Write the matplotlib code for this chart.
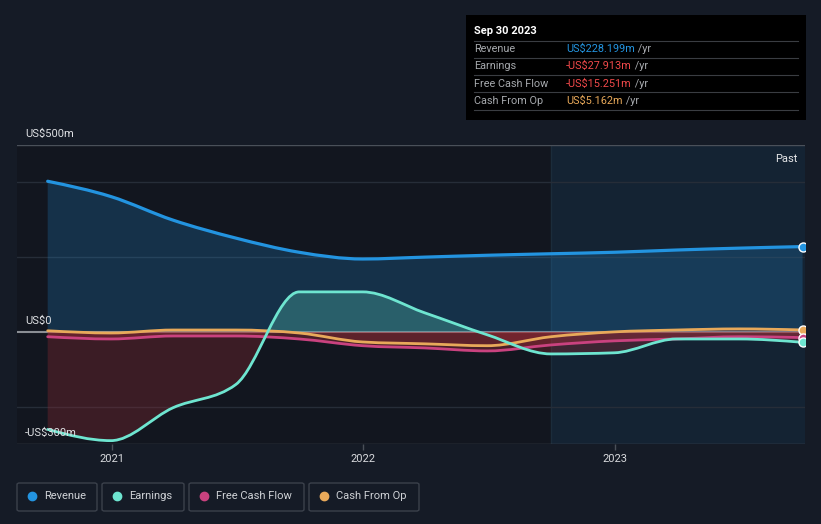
import numpy as np
import matplotlib
matplotlib.use("Agg")
import matplotlib.pyplot as plt
from matplotlib.path import Path
from matplotlib.patches import PathPatch, Rectangle, FancyBboxPatch
from matplotlib.text import Annotation
import datetime as dt

plt.rcParams['font.family'] = ['Roboto', 'DejaVu Sans']

# ---------------- data ----------------
dates = ["2020-09-30", "2020-12-31", "2021-03-31", "2021-06-30", "2021-09-30",
         "2021-12-31", "2022-03-31", "2022-06-30", "2022-09-30", "2022-12-31",
         "2023-03-31", "2023-06-30", "2023-09-30"]
revenue = [403, 362, 299, 251, 213, 195, 200, 205, 209, 213, 219, 224, 228.199]
earnings = [-261, -291, -203, -141, 107, 107, 51, -8, -59, -56, -19, -19, -27.913]
fcf = [-13, -19, -11, -11, -19, -37, -43, -51, -35, -24, -19, -13, -15.251]
cfo = [3, -3, 5, 5, -3, -27, -32, -37, -13, 0, 5, 8, 5.162]

y_ticks = [500, 0, -300]
y_tick_labels = ["US$500m", "US$0", "-US$300m"]
x_ticks = [2021, 2022, 2023]
x_tick_labels = ["2021", "2022", "2023"]

tooltip_title = "Sep 30 2023"
tooltip_labels = ["Revenue", "Earnings", "Free Cash Flow", "Cash From Op"]
tooltip_values = ["US$228.199m", "-US$27.913m", "-US$15.251m", "US$5.162m"]
series_names = ["Revenue", "Earnings", "Free Cash Flow", "Cash From Op"]

# ---------------- styles ----------------
BG = "#151b26"
C_REV = "#2394e0"
C_EARN = "#6ee5d0"
C_FCF = "#c9427f"
C_CFO = "#e8a95a"
colors = [C_REV, C_EARN, C_FCF, C_CFO]


def frac_year(s):
    d = dt.date.fromisoformat(s)
    start = dt.date(d.year, 1, 1)
    end = dt.date(d.year + 1, 1, 1)
    return d.year + (d - start).days / (end - start).days


X = np.array([frac_year(s) for s in dates])


def monotone_tangents(x, y):
    x = np.asarray(x, float); y = np.asarray(y, float)
    n = len(x)
    t = np.zeros(n)
    h = np.diff(x)
    s = np.diff(y) / h
    for i in range(1, n - 1):
        h0, h1 = h[i - 1], h[i]
        s0, s1 = s[i - 1], s[i]
        p = (s0 * h1 + s1 * h0) / (h0 + h1)
        t[i] = (np.sign(s0) + np.sign(s1)) * min(abs(s0), abs(s1), 0.5 * abs(p))
    t[0] = (3 * s[0] - t[1]) / 2
    t[-1] = (3 * s[-1] - t[-2]) / 2
    return t


def curve_path_parts(x, y):
    x = np.asarray(x, float); y = np.asarray(y, float)
    t = monotone_tangents(x, y)
    verts = [(x[0], y[0])]
    codes = [Path.MOVETO]
    for i in range(len(x) - 1):
        dx = (x[i + 1] - x[i]) / 3
        verts += [(x[i] + dx, y[i] + dx * t[i]),
                  (x[i + 1] - dx, y[i + 1] - dx * t[i + 1]),
                  (x[i + 1], y[i + 1])]
        codes += [Path.CURVE4] * 3
    return verts, codes


def line_path(x, y):
    v, c = curve_path_parts(x, y)
    return Path(v, c)


def area_path(x, y, base=0.0):
    v, c = curve_path_parts(x, y)
    v = v + [(x[-1], base), (x[0], base), (x[0], y[0])]
    c = c + [Path.LINETO, Path.LINETO, Path.CLOSEPOLY]
    return Path(v, c)


W, H = 821, 524
fig = plt.figure(figsize=(W / 100, H / 100), dpi=100, facecolor=BG)
ax = fig.add_axes([17 / W, 1 - 444 / H, (805 - 17) / W, (444 - 145) / H])
ax.set_facecolor("#12161f")

x_left, x_right = 2020.624, 2023.755
ax.set_xlim(x_left, x_right)
ax.set_ylim(-300, 500)

# highlighted last year
ax.axvspan(X[-5], x_right, color="#15283a", alpha=0.75, lw=0, zorder=0)
ax.axvline(X[-5], color="#1b2c3b", lw=1, zorder=0.5)

# gridlines
for gy in [400, 200, -200]:
    ax.axhline(gy, color="#262d38", lw=1, zorder=0.6)
ax.axhline(0, color="#8a8e94", lw=1.5, zorder=0.7)

for sp in ax.spines.values():
    sp.set_visible(False)
ax.axhline(500, color="#4a5059", lw=1, zorder=0.8)
ax.axhline(-300, color="#4a5059", lw=1, zorder=0.8)

# fills
ax.add_patch(PathPatch(area_path(X, revenue), facecolor=C_REV, alpha=0.22, lw=0, zorder=1))

earn_pos = PathPatch(area_path(X, earnings), facecolor="#4fb6a8", alpha=0.35, lw=0, zorder=1.2)
ax.add_patch(earn_pos)
earn_pos.set_clip_path(Rectangle((x_left, 0), x_right - x_left, 600, transform=ax.transData))
earn_neg = PathPatch(area_path(X, earnings), facecolor="#8a2a33", alpha=0.35, lw=0, zorder=1.2)
ax.add_patch(earn_neg)
earn_neg.set_clip_path(Rectangle((x_left, -400), x_right - x_left, 400, transform=ax.transData))

ax.add_patch(PathPatch(area_path(X, fcf), facecolor="#b0303a", alpha=0.35, lw=0, zorder=1.3))
ax.add_patch(PathPatch(area_path(X, cfo), facecolor="#b0303a", alpha=0.2, lw=0, zorder=1.3))

# lines
for vals, col, lw, z in [(revenue, C_REV, 2.3, 3), (earnings, C_EARN, 2.0, 3.4),
                         (fcf, C_FCF, 2.0, 3.2), (cfo, C_CFO, 2.0, 3.3)]:
    ax.add_patch(PathPatch(line_path(X, vals), facecolor="none", edgecolor=col,
                           lw=lw, zorder=z, capstyle="round", joinstyle="round"))

# end markers (clipped at the plot edge)
for vals, col, z in [(revenue, C_REV, 5), (cfo, C_CFO, 5.1), (fcf, C_FCF, 5.2), (earnings, C_EARN, 5.3)]:
    ax.plot([X[-1]], [vals[-1]], marker="o", ms=6.5, mfc=col, mec="white", mew=1.0,
            zorder=z, clip_on=True)

# ticks
ax.set_yticks([])
ax.set_xticks(x_ticks)
ax.set_xticklabels(x_tick_labels, color="#d8dadd", fontsize=8)
ax.tick_params(axis="x", length=4, color="#4a5059", pad=3, width=1)

for val, lab in zip(y_ticks, y_tick_labels):
    ax.annotate(lab, xy=(0, val), xycoords=("axes fraction", "data"),
                xytext=(8, 6), textcoords="offset pixels",
                ha="left", va="bottom", color="#dfe1e4", fontsize=8, zorder=10)

ax.text(0.99, 0.97, "Past", transform=ax.transAxes, ha="right", va="top",
        color="#e6e7e9", fontsize=8)


# ---------------- tooltip ----------------
def fx(px):
    return px / W


def fy(py):
    return 1 - py / H


fig.patches.append(Rectangle((fx(466), fy(120)), fx(806) - fx(466), fy(15) - fy(120),
                             transform=fig.transFigure, facecolor="#000000",
                             edgecolor="none", zorder=1))
fig.text(fx(474), fy(31), tooltip_title, color="white", fontsize=8, fontweight="bold",
         va="center", ha="left")
row_y = [49, 66, 84, 101]
sep_y = [41, 58, 75, 92, 110]
for sy in sep_y:
    fig.add_artist(plt.Line2D([fx(474), fx(798)], [fy(sy), fy(sy)], color="#3a3d42",
                              lw=0.8, transform=fig.transFigure))
val_colors = [C_REV, "#f0494a", "#f0494a", C_CFO]
for lab, val, ry, vc in zip(tooltip_labels, tooltip_values, row_y, val_colors):
    fig.text(fx(474), fy(ry), lab, color="#a6a9ad", fontsize=7.8, va="center", ha="left")
    t = fig.text(fx(566), fy(ry), val, color=vc, fontsize=7.8, va="center", ha="left")
    fig.add_artist(Annotation(" /yr", xy=(1, 0.5), xycoords=t, va="center", ha="left",
                              color="#a6a9ad", fontsize=7.8))

# ---------------- legend ----------------
legend_boxes = [(17, 97), (102, 184), (189, 304), (309, 419)]
for (x0, x1), name, col in zip(legend_boxes, series_names, colors):
    fig.patches.append(FancyBboxPatch((fx(x0), fy(511)), fx(x1) - fx(x0), fy(483) - fy(511),
                                      boxstyle="round,pad=0,rounding_size=0.003",
                                      transform=fig.transFigure, facecolor="none",
                                      edgecolor="#3b414b", lw=1))
    fig.add_artist(plt.Line2D([fx(x0 + 15)], [fy(496)], marker="o", ms=6, color=col,
                              mec=col, transform=fig.transFigure, lw=0))
    fig.text(fx(x0 + 27), fy(496), name, color="#cfd2d6", fontsize=8, va="center", ha="left")

fig.savefig("out.png", dpi=100, facecolor=BG)
